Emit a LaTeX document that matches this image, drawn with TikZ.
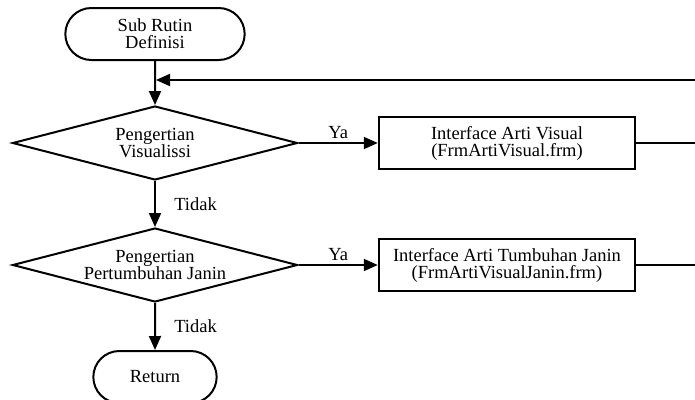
\documentclass[tikz,border=0pt]{standalone}
\usepackage{fontspec}
\setmainfont{Liberation Serif}
\usetikzlibrary{shapes.geometric,shapes.misc,arrows.meta}

\begin{document}
\begin{tikzpicture}[x=1pt,y=-1pt,
    font=\fontsize{18.5}{17}\selectfont,
    >={Triangle[length=14pt,width=12pt]},
    line width=2pt,
    terminal/.style={rounded rectangle,draw,align=center,minimum height=52pt},
    decision/.style={diamond,draw,minimum width=285pt,minimum height=74pt,inner sep=0pt},
    process/.style={rectangle,draw,align=center,minimum width=256pt,minimum height=52pt,line width=2.5pt}]
  \def\cx{155}
  \def\px{507}
  \def\ya{143}
  \def\yb{265}
  \def\redge{695}
  \useasboundingbox (0,0) rectangle (695,399);
  \clip (0,0) rectangle (695,399);
  %main column
  \node[terminal,minimum width=186pt] (start) at (\cx,34) {Sub Rutin\\Definisi};
  \node[decision,label={[align=center]center:Pengertian\\Visualissi}] (d1) at (\cx,\ya) {};
  \node[decision,label={[align=center]center:Pengertian\\Pertumbuhan Janin}] (d2) at (\cx,\yb) {};
  \node[terminal,minimum width=130pt] (ret) at (\cx,377) {Return};
  %interfaces
  \node[process] (box1) at (\px,\ya) {Interface Arti Visual\\(FrmArtiVisual.frm)};
  \node[process] (box2) at (\px,\yb) {Interface Arti Tumbuhan Janin\\(FrmArtiVisualJanin.frm)};
  %loop back, leaves the picture on the right
  \coordinate (join) at (\cx,80);
  \coordinate (back) at (\redge,80);
  \coordinate (out1) at (\redge,\ya);
  \coordinate (out2) at (\redge,\yb);

  \draw[->] (start) -- (d1);
  \draw[->] (back) -- ([xshift=1pt]join);
  \draw[->] (d1) -- node[above]{Ya} (box1);
  \draw (box1) -- (out1);
  \draw[->] (d1) -- node[right,xshift=15pt]{Tidak} (d2);
  \draw[->] (d2) -- node[above]{Ya} (box2);
  \draw (box2) -- (out2);
  \draw[->] (d2) -- node[right,xshift=15pt]{Tidak} (ret);
\end{tikzpicture}
\end{document}
